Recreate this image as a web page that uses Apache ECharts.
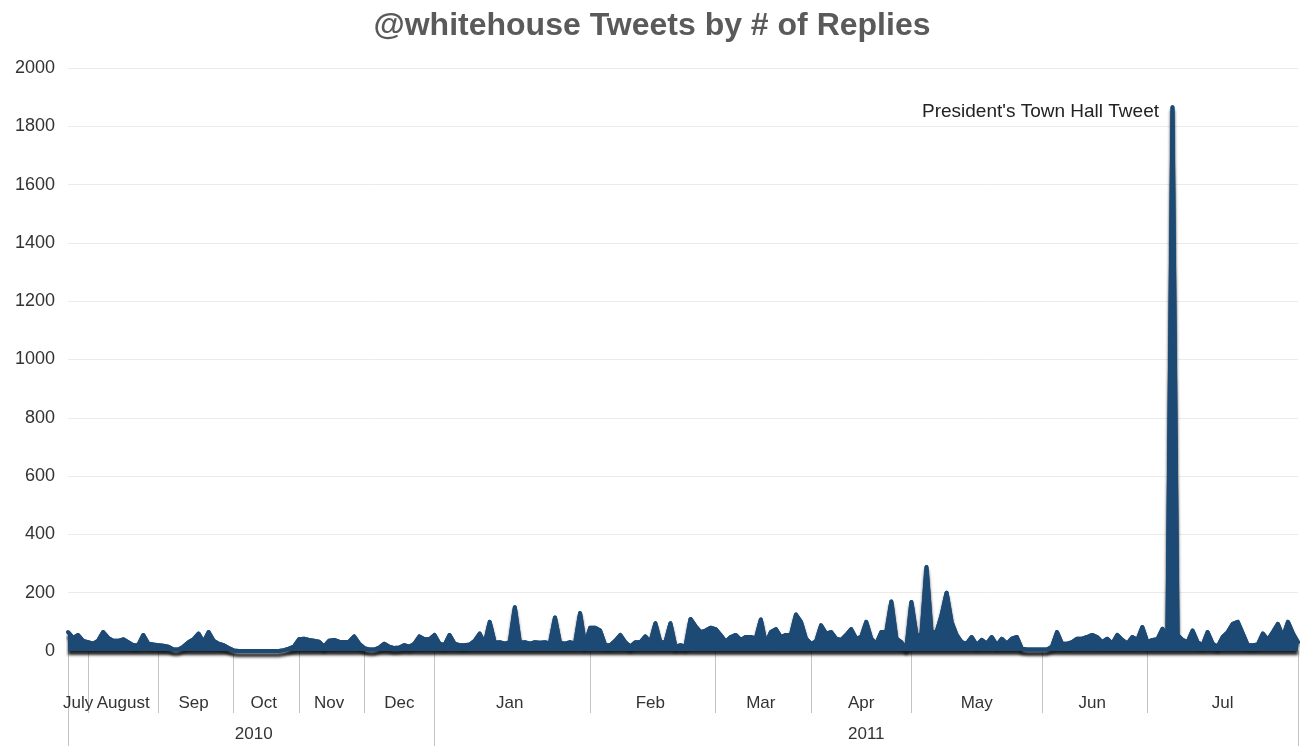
<!DOCTYPE html>
<html>
<head>
<meta charset="utf-8">
<script src="https://cdn.jsdelivr.net/npm/echarts@6/dist/echarts.min.js"></script>
<style>
html,body{margin:0;padding:0;background:#fff;}
#chart{width:1304px;height:746px;}
</style>
</head>
<body>
<div id="chart"></div>
<script>
// ---- data (one value ~ every 5 px of tweet index) ----
const titleText = '@whitehouse Tweets by # of Replies';
const annotationText = "President's Town Hall Tweet";
const monthNames = ['July','August','Sep','Oct','Nov','Dec','Jan','Feb','Mar','Apr','May','Jun','Jul'];
const yearNames = ['2010','2011'];
const monthsPerYear = [6, 7];

const jul2010 = [65,45,55,35];
const aug2010 = [30,25,35,65,45,35,35,40,30,20,20,55,25,22];
const sep2010 = [20,18,15,5,5,15,30,40,60,30,65,35,25,20,10];
const oct2010 = [2,0,0,0,0,0,0,0,0,0,3,8,15];
const nov2010 = [40,42,38,35,32,15,35,38,32,30,32,50,25];
const dec2010 = [10,5,5,12,25,15,10,12,20,15,25,50,40,40];
const jan2011 = [55,25,20,55,25,20,20,22,35,60,25,100,28,30,25,30,150,28,30,25,30,28,30,25,115,28,25,30,25,130,20];
const feb2011 = [80,80,70,20,20,35,55,30,15,30,30,50,30,95,30,30,95,15,20,15,110,85,65,70,80];
const mar2011 = [75,55,32,48,55,38,48,48,42,108,25,65,75,48,55,55,125,100,42];
const apr2011 = [25,32,88,60,65,42,38,55,75,42,48,100,42,25,65,65,170,42,30,8];
const may2011 = [168,55,55,288,65,65,122,200,100,55,30,25,48,20,38,25,48,20,42,25,42,48,8,5,5,5];
const jun2011 = [5,5,15,65,25,25,30,42,42,48,55,48,30,42,25,55,38,25,48,38,82];
const jul2011 = [30,38,40,76,48,1865,55,38,30,70,30,20,65,25,15,48,65,93,100,60,20,20,22,60,38,65,93,48,100,60,30];

const yTicks = {min: 0, max: 2000, interval: 200};

// ---- build structures ----
const monthData = [jul2010,aug2010,sep2010,oct2010,nov2010,dec2010,jan2011,feb2011,mar2011,apr2011,may2011,jun2011,jul2011];
const replies = [];
const monthStarts = [];
const monthLabelAt = {};
monthData.forEach((arr, m) => {
  const start = replies.length;
  monthStarts.push(start);
  monthLabelAt[start + Math.floor(arr.length / 2)] = monthNames[m];
  arr.forEach(v => replies.push(v));
});
const N = replies.length;
const categories = replies.map((_, i) => String(i));
const monthTickSet = new Set(monthStarts.concat([N - 1]));

const yearStarts = [];
const yearLabelAt = {};
let mIdx = 0;
monthsPerYear.forEach((cnt, y) => {
  const s = monthStarts[mIdx];
  const e = (mIdx + cnt < monthStarts.length) ? monthStarts[mIdx + cnt] : N - 1;
  yearStarts.push(s);
  yearLabelAt[Math.round((s + e) / 2)] = yearNames[y];
  mIdx += cnt;
});
const yearTickSet = new Set(yearStarts.concat([N - 1]));

let maxIdx = 0;
replies.forEach((v, i) => { if (v > replies[maxIdx]) maxIdx = i; });

const BLUE = '#1d4a74';
const FONT = "'Liberation Sans', Arial, Helvetica, sans-serif";
const chart = echarts.init(document.getElementById('chart'), null, {renderer: 'canvas'});
chart.setOption({
  animation: false,
  backgroundColor: '#fff',
  textStyle: {fontFamily: FONT},
  title: {
    text: titleText,
    left: 'center',
    top: 5,
    textStyle: {fontSize: 32, fontWeight: 'bold', color: '#5a5a5a', fontFamily: FONT}
  },
  grid: {left: 68, right: 6, top: 68, bottom: 95, containLabel: false},
  xAxis: [
    {
      type: 'category',
      data: categories,
      boundaryGap: false,
      position: 'bottom',
      axisLine: {show: false},
      axisTick: {
        show: true,
        length: 62,
        interval: (idx) => monthTickSet.has(idx),
        lineStyle: {color: '#c4c4c4', width: 1}
      },
      axisLabel: {
        show: true,
        interval: (idx) => monthLabelAt[idx] !== undefined,
        formatter: (val, idx) => monthLabelAt[idx] || '',
        margin: 44,
        fontSize: 17,
        color: '#333',
        fontFamily: FONT
      },
      splitLine: {show: false}
    },
    {
      type: 'category',
      data: categories,
      boundaryGap: false,
      position: 'bottom',
      axisLine: {show: false},
      axisTick: {
        show: true,
        length: 95,
        interval: (idx) => yearTickSet.has(idx),
        lineStyle: {color: '#c4c4c4', width: 1}
      },
      axisLabel: {
        show: true,
        interval: (idx) => yearLabelAt[idx] !== undefined,
        formatter: (val, idx) => yearLabelAt[idx] || '',
        margin: 75,
        fontSize: 17,
        color: '#333',
        fontFamily: FONT
      },
      splitLine: {show: false}
    }
  ],
  yAxis: {
    type: 'value',
    min: yTicks.min,
    max: yTicks.max,
    interval: yTicks.interval,
    axisLine: {show: false},
    axisTick: {show: false},
    axisLabel: {fontSize: 18, color: '#333', margin: 13, fontFamily: FONT, formatter: (v) => String(v)},
    splitLine: {lineStyle: {color: '#ebebeb', width: 1}}
  },
  series: [
    {
      // drop-shadow layer (same data), covered by the filled series above it
      type: 'line',
      xAxisIndex: 0,
      data: replies,
      symbol: 'none',
      clip: false,
      silent: true,
      z: 1,
      lineStyle: {
        color: BLUE, width: 4, join: 'round',
        shadowColor: 'rgba(0,0,0,0.85)', shadowBlur: 3, shadowOffsetY: 4
      },
      areaStyle: {
        color: BLUE, opacity: 1,
        shadowColor: 'rgba(0,0,0,0.85)', shadowBlur: 3, shadowOffsetY: 4
      }
    },
    {
      type: 'line',
      xAxisIndex: 0,
      data: replies,
      symbol: 'none',
      smooth: false,
      clip: false,
      z: 3,
      lineStyle: {color: BLUE, width: 4, join: 'round', cap: 'round'},
      areaStyle: {color: BLUE, opacity: 1},
      markPoint: {
        symbol: 'circle',
        symbolSize: 1,
        itemStyle: {color: 'rgba(0,0,0,0)'},
        label: {
          show: true,
          position: 'left',
          distance: 13,
          offset: [0, 4],
          formatter: annotationText,
          fontSize: 19,
          color: '#222',
          fontFamily: FONT
        },
        data: [{coord: [maxIdx, replies[maxIdx]]}]
      }
    }
  ]
});
</script>
</body>
</html>
